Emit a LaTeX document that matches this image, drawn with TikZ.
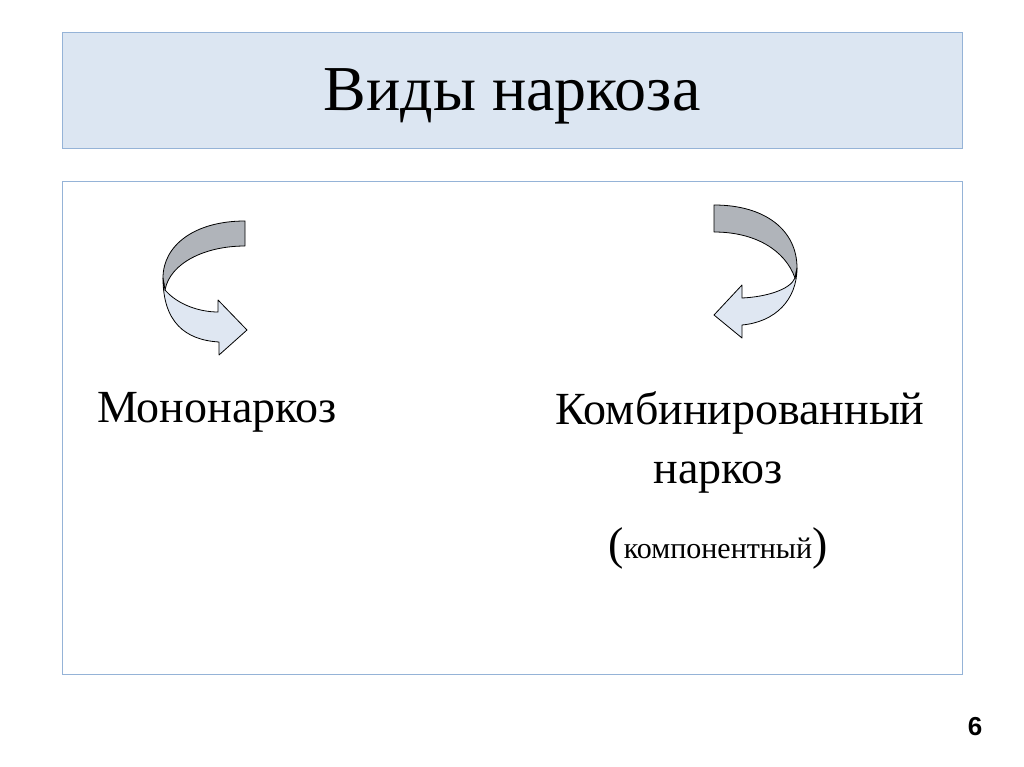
\documentclass[tikz,border=0pt]{standalone}
\usepackage{fontspec}
\setmainfont{Liberation Serif}
\newfontfamily\numfont{Liberation Sans}
\begin{document}
\begin{tikzpicture}[x=1pt,y=-1pt,
  box/.style={draw=boxline,line width=0.8pt},
  dark/.style={draw=black,line width=0.8pt,fill=darkfill,line join=round},
  light/.style={draw=black,line width=0.8pt,fill=lightfill,line join=round},
  txt/.style={font=\fontsize{46}{50}\selectfont,inner sep=0pt}]
\definecolor{boxline}{HTML}{95B3D7}
\definecolor{headfill}{HTML}{DCE6F2}
\definecolor{darkfill}{HTML}{B0B4BA}
\definecolor{lightfill}{HTML}{DFE7F2}
\useasboundingbox (0,0) rectangle (1024,767);
\fill[white] (0,0) rectangle (1024,767);
\draw[box,fill=headfill] (62,32) rectangle (962,148);
\node[font=\fontsize{64}{68}\selectfont,inner sep=0pt] (title) at (512,96) {Виды наркоза};
\draw[box] (62,181) rectangle (962,674);
% left arrow
\draw[dark] (245,221) .. controls (195,221) and (163,245) .. (163,278) -- (165,290) .. controls (170,263) and (205,246) .. (245,246) -- cycle;
\draw[light] (165,290) .. controls (178,305) and (200,312) .. (218,312) -- (218,300) -- (247,330) -- (219,355) -- (219,342) .. controls (185,340) and (163,322) .. (163,278) -- cycle;
% right arrow
\draw[dark] (714,205) .. controls (765,205) and (797,230) .. (797,268) -- (795,278) .. controls (785,250) and (755,232) .. (714,232) -- cycle;
\draw[light] (795,278) .. controls (790,290) and (765,297) .. (742,298) -- (742,285) -- (714,315) -- (742,338) -- (742,325) .. controls (775,322) and (797,300) .. (797,268) -- cycle;
\node[txt] (mono) at (217,412) {Мононаркоз};
\node[txt] (komb) at (740,413) {Комбинированный};
\node[txt] (nark) at (718,478) {наркоз};
\node[txt] (komp) at (718,548) {(\raisebox{1pt}{\fontsize{30}{32}\selectfont компонентный})};
\node[font=\numfont\bfseries\fontsize{26}{28}\selectfont,inner sep=0pt] (num) at (975,727) {6};
\end{tikzpicture}
\end{document}
